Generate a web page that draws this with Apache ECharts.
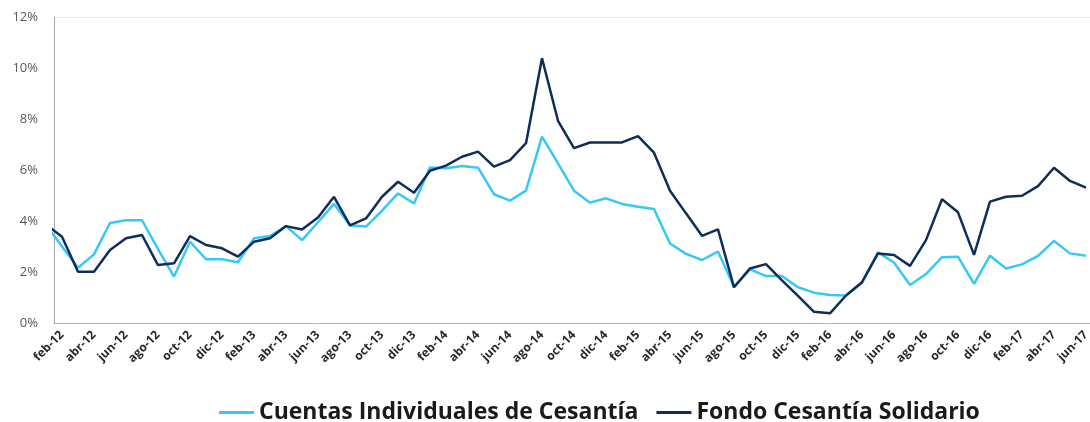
<!DOCTYPE html>
<html>
<head>
<meta charset="utf-8">
<script src="https://cdn.jsdelivr.net/npm/echarts@6/dist/echarts.min.js"></script>
<style>
  html, body { margin: 0; padding: 0; background: #fff; }
  #chart { width: 1090px; height: 422px; }
</style>
</head>
<body>
<div id="chart"></div>
<script>
// meses (ene-12 solo asoma en el borde izquierdo)
const meses = [
  'ene-12', 'feb-12', 'mar-12', 'abr-12', 'may-12', 'jun-12', 'jul-12', 'ago-12', 'sep-12', 'oct-12', 'nov-12', 'dic-12',
  'ene-13', 'feb-13', 'mar-13', 'abr-13', 'may-13', 'jun-13', 'jul-13', 'ago-13', 'sep-13', 'oct-13', 'nov-13', 'dic-13',
  'ene-14', 'feb-14', 'mar-14', 'abr-14', 'may-14', 'jun-14', 'jul-14', 'ago-14', 'sep-14', 'oct-14', 'nov-14', 'dic-14',
  'ene-15', 'feb-15', 'mar-15', 'abr-15', 'may-15', 'jun-15', 'jul-15', 'ago-15', 'sep-15', 'oct-15', 'nov-15', 'dic-15',
  'ene-16', 'feb-16', 'mar-16', 'abr-16', 'may-16', 'jun-16', 'jul-16', 'ago-16', 'sep-16', 'oct-16', 'nov-16', 'dic-16',
  'ene-17', 'feb-17', 'mar-17', 'abr-17', 'may-17', 'jun-17'
];

// meses con etiqueta en el eje (cada dos)
const mesesEtiqueta = [
  'feb-12', 'abr-12', 'jun-12', 'ago-12', 'oct-12', 'dic-12', 'feb-13', 'abr-13', 'jun-13', 'ago-13', 'oct-13', 'dic-13',
  'feb-14', 'abr-14', 'jun-14', 'ago-14', 'oct-14', 'dic-14', 'feb-15', 'abr-15', 'jun-15', 'ago-15', 'oct-15', 'dic-15',
  'feb-16', 'abr-16', 'jun-16', 'ago-16', 'oct-16', 'dic-16', 'feb-17', 'abr-17', 'jun-17'
];

const ticksY = [0, 2, 4, 6, 8, 10, 12];

const cuentasIndividuales = [
  3.85, 3.00, 2.17, 2.69, 3.92, 4.03, 4.03, 2.90, 1.82, 3.19, 2.50, 2.50,
  2.38, 3.32, 3.41, 3.80, 3.25, 3.95, 4.67, 3.83, 3.78, 4.41, 5.08, 4.69,
  6.10, 6.07, 6.16, 6.09, 5.05, 4.80, 5.19, 7.31, 6.26, 5.19, 4.72, 4.89,
  4.67, 4.56, 4.47, 3.12, 2.71, 2.47, 2.80, 1.42, 2.10, 1.84, 1.84, 1.40,
  1.19, 1.10, 1.08, 1.58, 2.77, 2.37, 1.49, 1.92, 2.58, 2.60, 1.53, 2.64,
  2.14, 2.30, 2.63, 3.22, 2.73, 2.64
];

const fondoSolidario = [
  3.87, 3.38, 2.01, 2.01, 2.86, 3.32, 3.45, 2.27, 2.34, 3.41, 3.06, 2.93,
  2.60, 3.19, 3.32, 3.80, 3.67, 4.14, 4.95, 3.83, 4.10, 4.95, 5.54, 5.11,
  5.97, 6.17, 6.52, 6.72, 6.13, 6.39, 7.05, 10.38, 7.93, 6.86, 7.08, 7.08,
  7.08, 7.33, 6.68, 5.19, 4.30, 3.42, 3.67, 1.40, 2.14, 2.31, 1.67, 1.06,
  0.44, 0.38, 1.08, 1.60, 2.73, 2.67, 2.24, 3.25, 4.85, 4.34, 2.67, 4.76,
  4.95, 4.99, 5.37, 6.09, 5.57, 5.31
];

const chart = echarts.init(document.getElementById('chart'), null, { renderer: 'canvas' });

const toPares = arr => arr.map((v, i) => [i, v]);

const option = {
  animation: false,
  backgroundColor: '#fff',
  grid: { left: 54, right: 0, top: 17, bottom: 99, outerBoundsMode: 'none' },
  legend: {
    left: 214,
    top: 396,
    icon: 'rect',
    itemWidth: 35,
    itemHeight: 3,
    itemGap: 18,
    textStyle: { fontFamily: 'Open Sans', fontWeight: 'bold', fontSize: 23, color: '#1a1a1a' },
    data: ['Cuentas Individuales de Cesantía', 'Fondo Cesantía Solidario']
  },
  xAxis: {
    type: 'value',
    min: 0.5,
    max: 65.25,
    axisLine: { show: true, lineStyle: { color: '#b4b4b4', width: 1 } },
    axisTick: { show: false },
    splitLine: { show: false },
    axisLabel: {
      customValues: mesesEtiqueta.map(m => meses.indexOf(m)),
      formatter: v => meses[v],
      rotate: 45,
      margin: 10,
      fontFamily: 'Open Sans',
      fontWeight: 'bold',
      fontSize: 12,
      color: '#262626'
    }
  },
  yAxis: {
    type: 'value',
    min: 0,
    max: 12,
    interval: 2,
    axisLine: { show: true, lineStyle: { color: '#a6a6a6', width: 1 } },
    axisTick: { show: false },
    splitLine: {
      show: true,
      lineStyle: { color: ticksY.map(t => t === 12 ? '#ececec' : 'rgba(0,0,0,0)'), width: 1 }
    },
    axisLabel: {
      formatter: '{value}%',
      margin: 16,
      fontFamily: 'Open Sans',
      fontSize: 13,
      color: '#595959'
    }
  },
  series: [
    {
      name: 'Cuentas Individuales de Cesantía',
      type: 'line',
      data: toPares(cuentasIndividuales),
      symbol: 'none',
      color: '#36c8f6',
      lineStyle: { width: 2.5, color: '#36c8f6' }
    },
    {
      name: 'Fondo Cesantía Solidario',
      type: 'line',
      data: toPares(fondoSolidario),
      symbol: 'none',
      color: '#0f2d5c',
      lineStyle: { width: 2.5, color: '#0f2d5c' }
    }
  ]
};

chart.setOption(option);
</script>
</body>
</html>
